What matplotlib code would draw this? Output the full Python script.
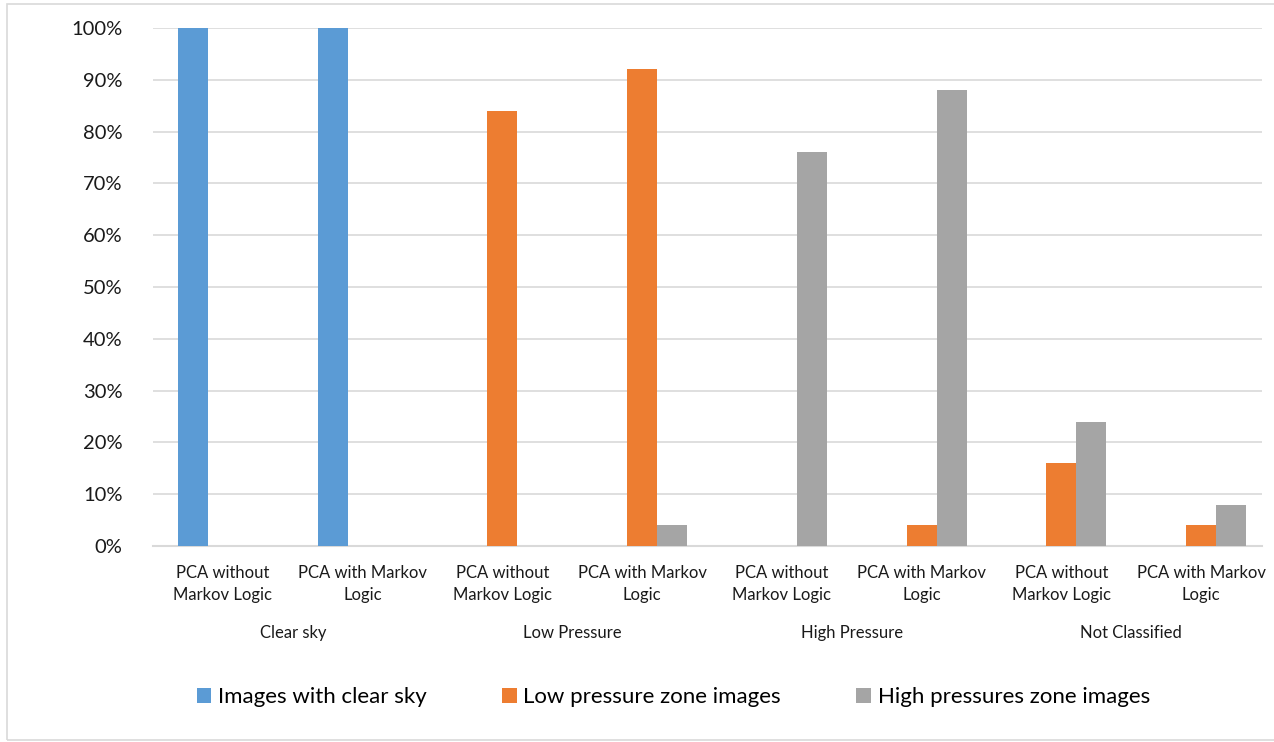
import numpy as np
import matplotlib.pyplot as plt
from matplotlib.patches import Rectangle

plt.rcParams['font.family'] = ['Lato', 'DejaVu Sans']

groups = ['Clear sky', 'Low Pressure', 'High Pressure', 'Not Classified']
methods = ['PCA without\nMarkov Logic', 'PCA with Markov\nLogic']
series = ['Images with clear sky', 'Low pressure zone images', 'High pressures zone images']
clear_sky = [100, 100, 0, 0, 0, 0, 0, 0]
low_pressure = [0, 0, 84, 92, 0, 4, 16, 4]
high_pressure = [0, 0, 0, 4, 76, 88, 24, 8]
colors = ['#5B9BD5', '#ED7D31', '#A5A5A5']

fig = plt.figure(figsize=(12.74, 7.42), dpi=100)
# plot area in pixels: x 153..1262, y 28..546
ax = fig.add_axes([153/1274, 1 - 546/742, 1109/1274, 518/742])

x = np.arange(len(clear_sky))
w = 0.215
for k, (vals, lab, c) in enumerate(zip([clear_sky, low_pressure, high_pressure], series, colors)):
    ax.bar(x + (k - 1) * w, vals, width=w, color=c, label=lab, zorder=3)

# category pitch ~139.75 px, last category slightly clipped at the right edge
ax.set_xlim(-0.5, len(x) - 0.5 - 9/139.75)
ax.set_ylim(0, 100)
ax.set_yticks(range(0, 101, 10))
ax.set_yticklabels([f'{v}%' for v in range(0, 101, 10)], fontsize=14.5, color='#1a1a1a')
ax.set_xticks(x)
ax.set_xticklabels(methods * len(groups), fontsize=12, color='#1a1a1a', linespacing=1.45)
ax.tick_params(axis='both', length=0)
ax.tick_params(axis='x', pad=14)
ax.tick_params(axis='y', pad=22)
ax.grid(axis='y', color='#D9D9D9', linewidth=1.2, zorder=0)
for s in ['top', 'right', 'left']:
    ax.spines[s].set_visible(False)
ax.spines['bottom'].set_color('#D9D9D9')
ax.spines['bottom'].set_linewidth(1.5)

for i, g in enumerate(groups):
    ax.text(2 * i + 0.5, -16.7, g, ha='center', va='center', fontsize=12, color='#1a1a1a',
            transform=ax.transData, clip_on=False)

leg = fig.legend(loc='center', bbox_to_anchor=(0.5285, 1 - 697/742), ncol=3, frameon=False,
                 fontsize=16, handlelength=0.65, handleheight=0.65, handletextpad=0.3,
                 columnspacing=3.4)

fig.patches.append(Rectangle((7/1274, 2/742), 1.1, 736/742, transform=fig.transFigure,
                             fill=False, edgecolor='#D9D9D9', linewidth=1.2))

fig.savefig('out.png', dpi=100)
